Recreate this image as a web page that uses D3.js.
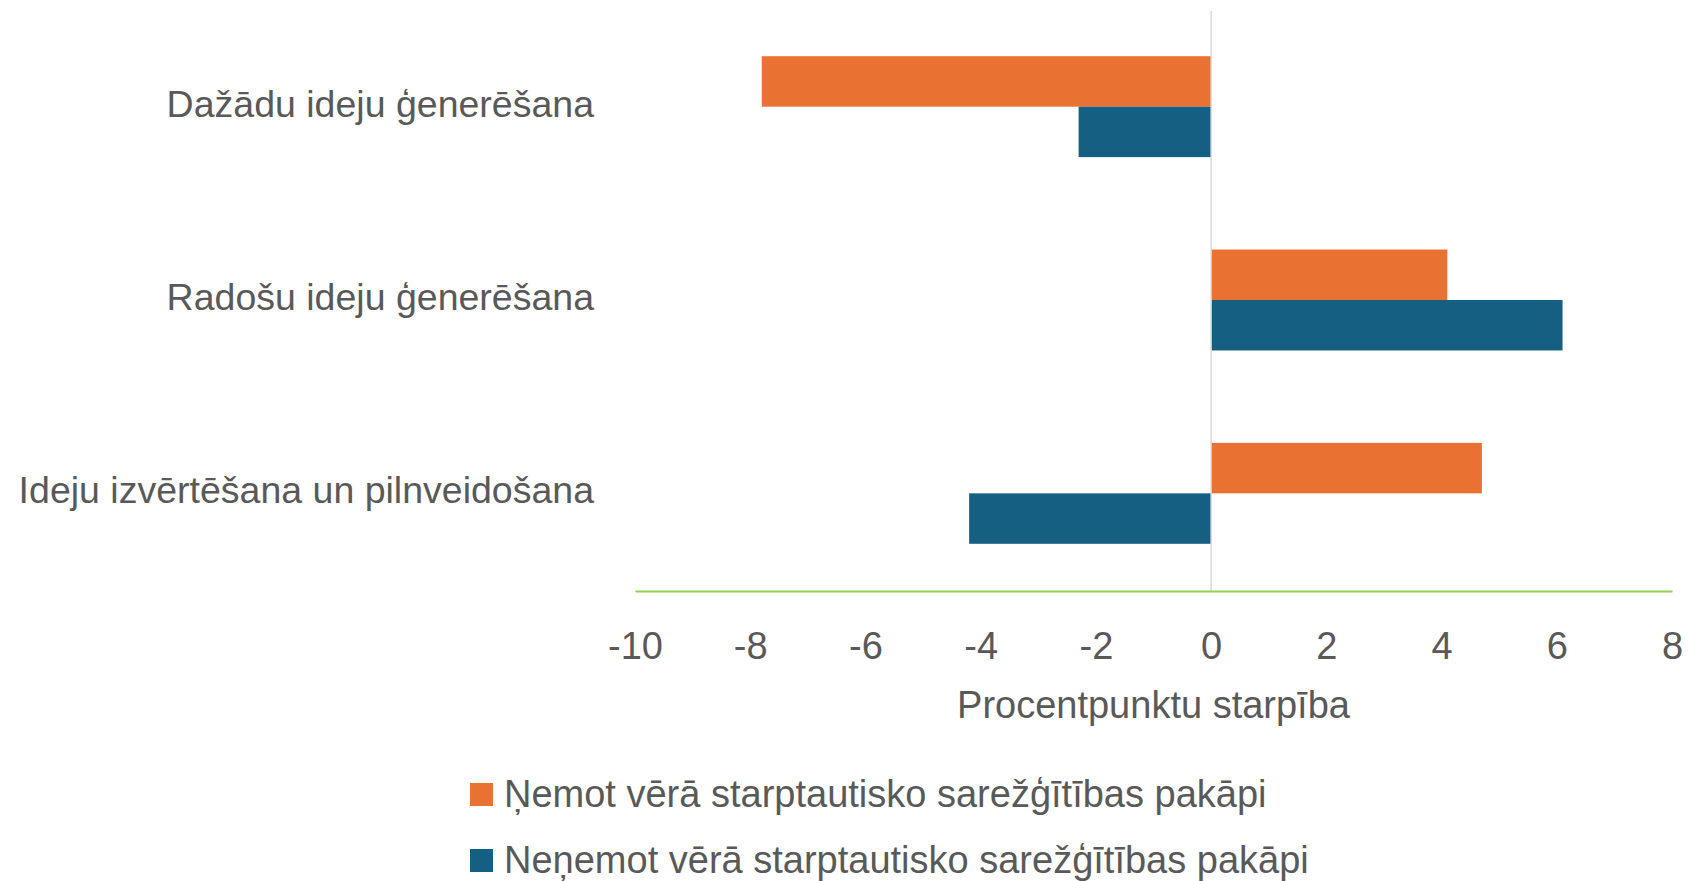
<!DOCTYPE html>
<html><head><meta charset="utf-8">
<script src="https://cdn.jsdelivr.net/npm/d3@7/dist/d3.min.js"></script>
<style>
body{margin:0;background:#fff;}
text{font-family:"Liberation Sans Narrow","Arial Narrow",sans-serif;fill:#595959;}
</style>
</head><body>
<svg id="c" width="1688" height="881"></svg>
<script>
const categories = ["Dažādu ideju ģenerēšana", "Radošu ideju ģenerēšana", "Ideju izvērtēšana un pilnveidošana"];
const seriesNames = ["Ņemot vērā starptautisko sarežģītības pakāpi", "Neņemot vērā starptautisko sarežģītības pakāpi"];
const withComplexity = [-7.8, 4.1, 4.7];
const withoutComplexity = [-2.3, 6.1, -4.2];
const xTicks = [-10, -8, -6, -4, -2, 0, 2, 4, 6, 8];
const axisTitle = "Procentpunktu starpība";
const colors = ["#E97132", "#156082"];

const series = [withComplexity, withoutComplexity];
const svg = d3.select("#c");
const FS = 38;

const x = d3.scaleLinear().domain([-10, 8]).range([635, 1672]);
const y0 = d3.scaleBand().domain(categories).range([10, 590]).paddingInner(0.478).paddingOuter(0.239);
const y1 = d3.scaleBand().domain([0, 1]).range([0, y0.bandwidth()]);

// bars
series.forEach((vals, si) => {
  svg.append("g").selectAll("rect").data(vals).join("rect")
    .attr("x", d => x(Math.min(0, d)))
    .attr("width", d => Math.abs(x(d) - x(0)))
    .attr("y", (d, i) => y0(categories[i]) + y1(si))
    .attr("height", y1.bandwidth())
    .attr("fill", colors[si]);
});

// zero line
svg.append("line").attr("x1", x(0)).attr("x2", x(0)).attr("y1", 11).attr("y2", 591)
  .attr("stroke", "#d9d9d9").attr("stroke-width", 1.5);

// x axis
const xAxis = d3.axisBottom(x).tickValues(xTicks).tickSize(0).tickPadding(0).tickFormat(d3.format("d"));
const gx = svg.append("g").attr("transform", "translate(0,591)").call(xAxis);
gx.select(".domain").attr("stroke", "#92D050").attr("stroke-width", 2);
gx.selectAll("text").attr("font-size", FS).attr("fill", "#595959")
  .attr("y", 55).attr("dy", "0.35em").text(d => d < 0 ? "-" + Math.abs(d) : d);
gx.attr("font-family", null);

// axis title
svg.append("text").attr("x", (x(-10) + x(8)) / 2).attr("y", 705).attr("dy", "0.35em")
  .attr("text-anchor", "middle").attr("font-size", FS).text(axisTitle);

// category labels
const yAxis = d3.axisLeft(y0).tickSize(0).tickPadding(0);
const gy = svg.append("g").attr("transform", "translate(594,-3)").call(yAxis);
gy.select(".domain").remove();
gy.attr("font-family", null);
gy.selectAll("text").attr("font-size", 37.5).attr("fill", "#595959").attr("dy", "0.35em");

// legend
const lg = svg.append("g");
seriesNames.forEach((n, i) => {
  const cy = 794 + i * 66;
  lg.append("rect").attr("x", 470).attr("y", cy - 11).attr("width", 23).attr("height", 23).attr("fill", colors[i]);
  lg.append("text").attr("x", 504).attr("y", cy).attr("dy", "0.35em").attr("font-size", FS).text(n);
});
</script>
</body></html>
